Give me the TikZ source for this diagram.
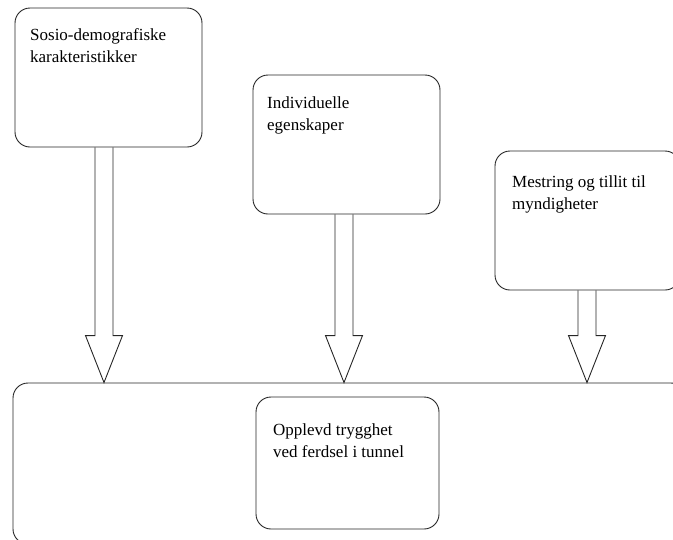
\documentclass[tikz,border=0pt]{standalone}
\usepackage{fontspec}
\setmainfont{Liberation Serif}
\usetikzlibrary{calc}

\begin{document}
\begin{tikzpicture}[x=1pt, y=-1pt,
  box/.style={draw=black!85, line width=0.9pt, rounded corners=15pt, inner sep=0pt},
  lbl/.style={anchor=base west, align=left, inner sep=0pt, font=\fontsize{17}{22}\selectfont},
  blk/.style={draw=black!85, line width=0.9pt, line join=miter}]
  \useasboundingbox (0,0) rectangle (673,539);
  \clip (0,0) rectangle (673,539);
  % the three factor boxes
  \node[box, minimum width=187, minimum height=139] (sd) at (108.5,77.5) {};
  \node[box, minimum width=187, minimum height=139] (ie) at (346.5,144.5) {};
  \node[box, minimum width=185, minimum height=139] (mt) at (587.5,220.5) {};
  % outer frame and the outcome box
  \node[box, minimum width=673, minimum height=161] (frame) at (349.5,463.5) {};
  \node[box, minimum width=183, minimum height=132] (tp) at (347.5,463) {};
  % labels (base = last line)
  \node[lbl] (sdt) at (30,62) {Sosio-demografiske\\karakteristikker};
  \node[lbl] (iet) at (267,130) {Individuelle\\egenskaper};
  \node[lbl] (mtt) at (512,209) {Mestring og tillit til\\myndigheter};
  \node[lbl] (tpt) at (273,457) {Opplevd trygghet\\ved ferdsel i tunnel};
  % block arrows
  \coordinate (sdout) at ($(sd.south)+(-4.5,0)$);
  \coordinate (ieout) at ($(ie.south)+(-2.5,0)$);
  \coordinate (mtout) at ($(mt.south)+(-0.5,0)$);
  \coordinate (sdin) at (sdout |- frame.north);
  \coordinate (iein) at (ieout |- frame.north);
  \coordinate (mtin) at (mtout |- frame.north);
  \draw[blk] ($(sdout)+(-9,0)$) -- ($(sdin)+(-9,-47)$) -- ++(-9.5,0) -- (sdin) -- ++(18.5,-47) -- ++(-9.5,0) -- ($(sdout)+(9,0)$);
  \draw[blk] ($(ieout)+(-9,0)$) -- ($(iein)+(-9,-47)$) -- ++(-9.5,0) -- (iein) -- ++(18.5,-47) -- ++(-9.5,0) -- ($(ieout)+(9,0)$);
  \draw[blk] ($(mtout)+(-9,0)$) -- ($(mtin)+(-9,-47)$) -- ++(-9.5,0) -- (mtin) -- ++(18.5,-47) -- ++(-9.5,0) -- ($(mtout)+(9,0)$);
\end{tikzpicture}
\end{document}
